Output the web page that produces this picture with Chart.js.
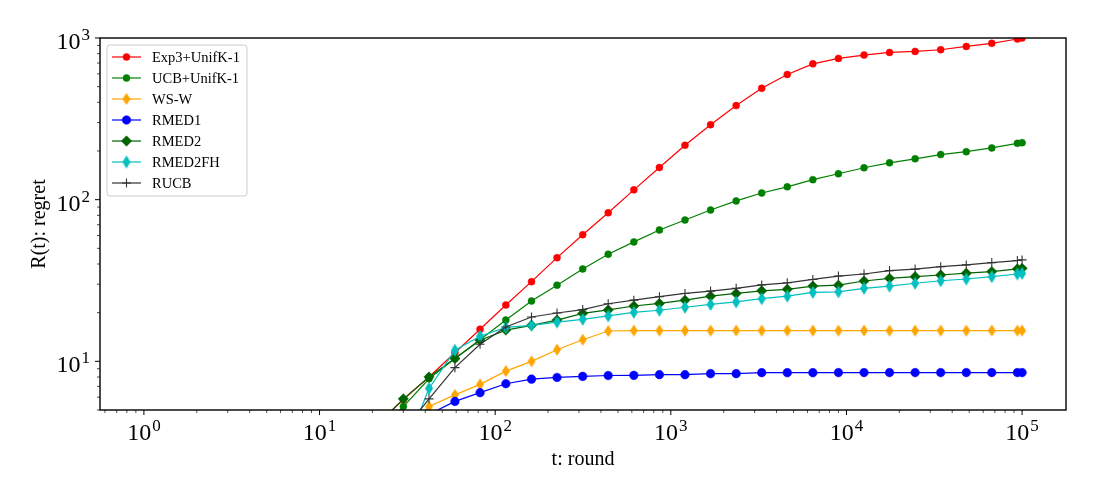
<!DOCTYPE html>
<html lang="en">
<head>
    <meta charset="UTF-8">
    <title>Regret vs round</title>
    <style>
        html, body { margin: 0; padding: 0; background: #ffffff; }
        #chart-wrap { width: 1100px; height: 500px; }
    </style>
</head>
<body>
    <div id="chart-wrap">
        <canvas id="regret-chart" width="1100" height="500"></canvas>
    </div>

    <script src="https://cdn.jsdelivr.net/npm/chart.js"></script>
    <script>
        // rounds t (x axis, log scale)
        const rounds = [21, 30, 42, 59, 82, 115, 161, 225, 315, 440, 616, 861, 1204, 1684, 2355,
            3292, 4603, 6437, 9000, 12590, 17590, 24600, 34400, 48100, 67200, 94000, 100000];

        // regret R(t) per algorithm
        const exp3Unif = [4.0, 5.8, 8.0, 11.3, 15.8, 22.3, 31.1, 43.8, 60.7, 83, 115, 158, 217, 291, 382,
            489, 595, 692, 748, 784, 814, 826, 846, 887, 927, 986, 1000];
        const ucbUnif = [3.7, 5.25, 7.8, 10.4, 13.6, 18.0, 23.6, 29.6, 37.3, 46.0, 54.8, 64.9, 74.8, 86.3, 98.2,
            110, 120, 133, 144.6, 157.5, 169, 179, 190, 198, 209, 223, 225];
        const wsW = [2.5, 3.7, 5.25, 6.2, 7.2, 8.7, 10.0, 11.8, 13.6, 15.4, 15.5, 15.5, 15.5, 15.5, 15.5,
            15.5, 15.5, 15.5, 15.5, 15.5, 15.5, 15.5, 15.5, 15.5, 15.5, 15.5, 15.5];
        const rmed1 = [2.5, 3.5, 4.7, 5.65, 6.4, 7.27, 7.76, 7.95, 8.07, 8.17, 8.19, 8.27, 8.27, 8.39, 8.39,
            8.51, 8.51, 8.51, 8.52, 8.52, 8.52, 8.52, 8.52, 8.52, 8.52, 8.52, 8.52];
        const rmed2 = [4.0, 5.86, 8.0, 10.4, 13.5, 15.6, 16.7, 18.0, 19.8, 20.8, 22.0, 22.8, 23.9, 25.3, 26.3,
            27.3, 27.9, 29.2, 29.6, 31.4, 32.6, 33.4, 34.2, 35.1, 35.9, 37.3, 37.6];
        const rmed2fh = [1.5, 2.7, 6.8, 11.7, 14.3, 16.2, 16.7, 17.5, 18.2, 19.1, 20.1, 20.7, 21.6, 22.5, 23.3,
            24.4, 25.3, 26.7, 26.9, 28.3, 29.2, 30.4, 31.5, 32.3, 33.4, 34.7, 35.0];
        const rucb = [2.0, 3.7, 5.86, 9.14, 12.75, 16.3, 18.8, 19.9, 20.9, 22.7, 23.9, 25.1, 26.3, 27.2, 28.3,
            29.7, 30.6, 32.1, 33.7, 34.7, 36.4, 37.2, 38.5, 39.5, 40.8, 42.0, 42.4];

        // axis ticks (labels written as base^exponent)
        const xMajorTicks = [1, 10, 100, 1000, 10000, 100000];
        const xTickLabels = ['10^0', '10^1', '10^2', '10^3', '10^4', '10^5'];
        const yMajorTicks = [10, 100, 1000];
        const yTickLabels = ['10^1', '10^2', '10^3'];

        const FONT = "'Liberation Serif', 'DejaVu Serif', serif";

        // thin diamond marker (matplotlib 'd')
        function thinDiamond(color, w, h) {
            const c = document.createElement('canvas');
            c.width = w + 2;
            c.height = h + 2;
            const g = c.getContext('2d');
            g.beginPath();
            g.moveTo(c.width / 2, 1);
            g.lineTo(c.width - 1, c.height / 2);
            g.lineTo(c.width / 2, c.height - 1);
            g.lineTo(1, c.height / 2);
            g.closePath();
            g.fillStyle = color;
            g.fill();
            return c;
        }

        function series(label, values, color, style, radius, order) {
            return {
                label: label,
                data: rounds.map((t, i) => ({ x: t, y: values[i] })),
                borderColor: color,
                backgroundColor: color,
                borderWidth: 1.2,
                pointStyle: style,
                pointRadius: radius,
                pointBorderWidth: style === 'cross' ? 1.1 : 0.5,
                pointBorderColor: color,
                pointBackgroundColor: color,
                tension: 0,
                clip: 0,
                order: order
            };
        }

        const datasets = [
            series('Exp3+UnifK-1', exp3Unif, '#ff0000', 'circle', 3.5, 7),
            series('UCB+UnifK-1', ucbUnif, '#008000', 'circle', 3.5, 6),
            series('WS-W', wsW, '#ffa500', thinDiamond('#ffa500', 8, 12), 5, 5),
            series('RMED1', rmed1, '#0000ff', 'circle', 4.3, 4),
            series('RMED2', rmed2, '#006400', 'rectRot', 5.2, 3),
            series('RMED2FH', rmed2fh, '#00bfbf', thinDiamond('#00bfbf', 8, 13), 5, 2),
            series('RUCB', rucb, '#333333', 'cross', 4.5, 1)
        ];

        // 1..9 x 10^d ticks inside [min, max]
        function logTicks(min, max) {
            const out = [];
            for (let d = -1; d <= 5; d++) {
                for (let m = 1; m <= 9; m++) {
                    const v = Number((m * Math.pow(10, d)).toPrecision(6));
                    if (v >= min && v <= max) out.push(v);
                }
            }
            return out;
        }

        // draws "10" with a raised exponent
        function drawPower(ctx, label, x, baseline, align) {
            const [base, exp] = label.split('^');
            ctx.font = "24px " + FONT;
            const wb = ctx.measureText(base).width;
            ctx.font = "17px " + FONT;
            const we = ctx.measureText(exp).width;
            const total = wb + 1 + we;
            const start = align === 'center' ? x - total / 2 : x - total;
            ctx.textAlign = 'left';
            ctx.textBaseline = 'alphabetic';
            ctx.font = "24px " + FONT;
            ctx.fillText(base, start, baseline);
            ctx.font = "17px " + FONT;
            ctx.fillText(exp, start + wb + 1, baseline - 9);
        }

        const axisPlugin = {
            id: 'logAxes',
            afterDraw(chart) {
                const { ctx, chartArea: a } = chart;
                const xs = chart.scales.x, ys = chart.scales.y;
                ctx.save();
                ctx.strokeStyle = '#000';
                ctx.fillStyle = '#000';
                logTicks(xs.min, xs.max).forEach(v => {
                    const major = xMajorTicks.includes(v);
                    const px = xs.getPixelForValue(v);
                    ctx.lineWidth = major ? 1 : 0.7;
                    ctx.beginPath();
                    ctx.moveTo(px, a.bottom);
                    ctx.lineTo(px, a.bottom + (major ? 5 : 3));
                    ctx.stroke();
                });
                logTicks(ys.min, ys.max).forEach(v => {
                    const major = yMajorTicks.includes(v);
                    const py = ys.getPixelForValue(v);
                    ctx.lineWidth = major ? 1 : 0.7;
                    ctx.beginPath();
                    ctx.moveTo(a.left, py);
                    ctx.lineTo(a.left - (major ? 5 : 3), py);
                    ctx.stroke();
                });
                xMajorTicks.forEach((v, i) => {
                    drawPower(ctx, xTickLabels[i], xs.getPixelForValue(v), a.bottom + 29.5, 'center');
                });
                yMajorTicks.forEach((v, i) => {
                    drawPower(ctx, yTickLabels[i], a.left - 10, ys.getPixelForValue(v) + 11, 'right');
                });
                // frame
                ctx.lineWidth = 1.4;
                ctx.strokeRect(a.left, a.top, a.right - a.left, a.bottom - a.top);
                ctx.restore();
            }
        };

        const legendPlugin = {
            id: 'boxLegend',
            afterDraw(chart) {
                const { ctx, chartArea: a } = chart;
                const x0 = a.left + 7, y0 = a.top + 7, w = 140, rowH = 21;
                const h = rowH * chart.data.datasets.length + 4;
                ctx.save();
                ctx.beginPath();
                ctx.roundRect(x0, y0, w, h, 3);
                ctx.fillStyle = 'rgba(255,255,255,0.85)';
                ctx.fill();
                ctx.strokeStyle = '#cccccc';
                ctx.lineWidth = 1;
                ctx.stroke();
                chart.data.datasets.forEach((ds, i) => {
                    const cy = y0 + 12 + i * rowH;
                    ctx.strokeStyle = ds.borderColor;
                    ctx.fillStyle = ds.backgroundColor;
                    ctx.lineWidth = ds.borderWidth;
                    ctx.beginPath();
                    ctx.moveTo(x0 + 5, cy);
                    ctx.lineTo(x0 + 34, cy);
                    ctx.stroke();
                    ctx.lineWidth = ds.pointBorderWidth;
                    Chart.helpers.drawPoint(ctx, {
                        pointStyle: ds.pointStyle,
                        radius: ds.pointRadius,
                        rotation: 0,
                        borderWidth: ds.pointBorderWidth
                    }, x0 + 19.5, cy);
                    ctx.fillStyle = '#000';
                    ctx.font = "14.5px " + FONT;
                    ctx.textAlign = 'left';
                    ctx.textBaseline = 'middle';
                    ctx.fillText(ds.label, x0 + 45, cy + 1);
                });
                ctx.restore();
            }
        };

        document.addEventListener("DOMContentLoaded", function () {
            const ctx = document.getElementById("regret-chart").getContext("2d");
            new Chart(ctx, {
                type: "line",
                data: { datasets: datasets },
                options: {
                    responsive: false,
                    animation: false,
                    events: [],
                    layout: { padding: { top: 38, right: 34, left: 0, bottom: 0 } },
                    plugins: {
                        legend: { display: false },
                        tooltip: { enabled: false }
                    },
                    scales: {
                        x: {
                            type: "logarithmic",
                            min: Math.pow(10, -0.25),
                            max: Math.pow(10, 5.25),
                            afterFit: (scale) => { scale.height = 90; },
                            border: { display: false },
                            grid: { display: false },
                            ticks: { display: false },
                            title: {
                                display: true,
                                text: 't: round',
                                color: '#000',
                                font: { family: FONT, size: 20 },
                                padding: { top: 0, bottom: 28 }
                            }
                        },
                        y: {
                            type: "logarithmic",
                            min: 5,
                            max: 1000,
                            afterFit: (scale) => { scale.width = 100; },
                            border: { display: false },
                            grid: { display: false },
                            ticks: { display: false },
                            title: {
                                display: true,
                                text: 'R(t): regret',
                                color: '#000',
                                font: { family: FONT, size: 20 },
                                padding: { top: 28, bottom: 0 }
                            }
                        }
                    }
                },
                plugins: [axisPlugin, legendPlugin]
            });
        });
    </script>
</body>
</html>
